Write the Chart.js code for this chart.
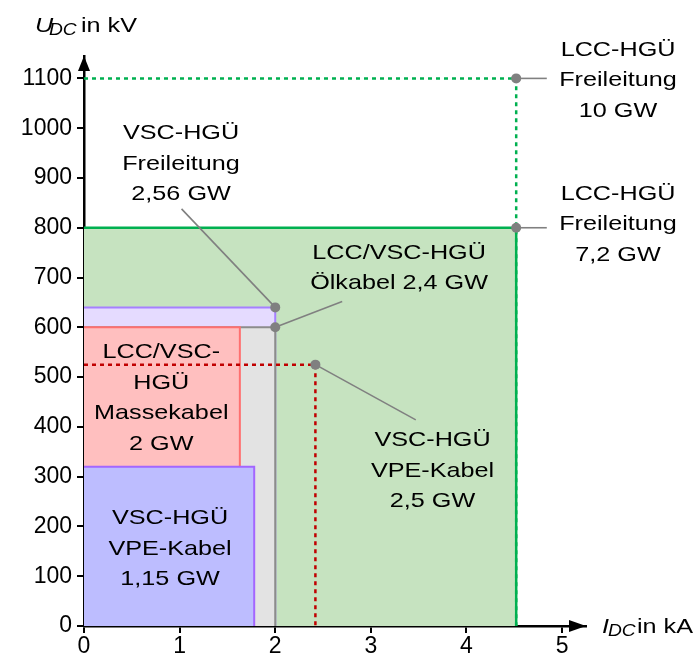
<!DOCTYPE html>
<html>
<head>
<meta charset="utf-8">
<script src="https://cdn.jsdelivr.net/npm/chart.js@4.4.1/dist/chart.umd.min.js"></script>
<style>
  html, body { margin: 0; padding: 0; background: #fff; }
  #wrap { width: 697px; height: 662px; }
</style>
</head>
<body>
<div id="wrap"><canvas id="c" width="697" height="662"></canvas></div>
<script>
// tick values
const xTicks = [0, 1, 2, 3, 4, 5];
const yTicks = [0, 100, 200, 300, 400, 500, 600, 700, 800, 900, 1000, 1100];

// operating areas (I in kA, U in kV), back to front
const areaCurrent = [4.52, 2.0, 2.0, 1.63, 1.78];
const areaVoltage = [800, 640, 600, 600, 320];

// dotted limits: LCC overhead line 10 GW, VSC XLPE 2.5 GW
const dottedCurrent = [4.52, 2.42];
const dottedVoltage = [1100, 525];

// leader lines: start point on the curve, end point near the label
const leaderStartI = [4.52, 4.52, 2.0, 2.0, 2.42];
const leaderStartU = [1100, 800, 640, 600, 525];
const leaderEndI = [4.84, 4.84, 1.02, 2.70, 3.47];
const leaderEndU = [1100, 800, 838, 652, 414];

// labels: text lines and anchor in data units
const labelLines = [
    ['LCC-HGÜ', 'Freileitung', '10 GW'],
    ['LCC-HGÜ', 'Freileitung', '7,2 GW'],
    ['VSC-HGÜ', 'Freileitung', '2,56 GW'],
    ['LCC/VSC-HGÜ', 'Ölkabel 2,4 GW'],
    ['LCC/VSC-', 'HGÜ', 'Massekabel', '2 GW'],
    ['VSC-HGÜ', 'VPE-Kabel', '1,15 GW'],
    ['VSC-HGÜ', 'VPE-Kabel', '2,5 GW'],
];
const labelI = [5.585, 5.585, 1.015, 3.295, 0.808, 0.90, 3.645];
const labelU = [1099, 810, 932, 722, 461, 158, 315];

const areaFill = ['#c6e3c0', '#e5dbff', '#e3e3e3', '#ffbfbf', '#bdbdff'];
const areaBorder = ['#00b050', '#a680ff', '#8c8c8c', '#ff7070', '#a366ff'];
const dottedColor = ['#00b050', '#c00000'];

const FONT = '"Liberation Sans", Arial, sans-serif';
const STRETCH = 1.2;

function wideText(ctx, txt, x, y, size, align, italic) {
    ctx.save();
    ctx.font = (italic ? 'italic ' : '') + size + 'px ' + FONT;
    ctx.textBaseline = 'alphabetic';
    ctx.textAlign = 'left';
    const w = ctx.measureText(txt).width * STRETCH;
    let x0 = x;
    if (align === 'center') x0 = x - w / 2;
    ctx.translate(x0, y);
    ctx.scale(STRETCH, 1);
    ctx.fillText(txt, 0, 0);
    ctx.restore();
    return w;
}

const datasets = [];

areaCurrent.forEach((I, i) => {
    datasets.push({
        data: [{x: 0, y: areaVoltage[i]}, {x: I, y: areaVoltage[i]}, {x: I, y: 0}],
        borderColor: areaBorder[i],
        backgroundColor: areaFill[i],
        borderWidth: i === 0 ? 2.5 : 2,
        fill: 'origin',
        pointRadius: 0,
        tension: 0,
        order: 20 - i,
    });
});

dottedCurrent.forEach((I, i) => {
    datasets.push({
        data: [{x: 0, y: dottedVoltage[i]}, {x: I, y: dottedVoltage[i]}, {x: I, y: 0}],
        borderColor: dottedColor[i],
        borderWidth: 2.5,
        borderDash: [4, 4],
        fill: false,
        pointRadius: 0,
        order: 5,
    });
});

leaderStartI.forEach((I, i) => {
    datasets.push({
        data: [{x: I, y: leaderStartU[i]}, {x: leaderEndI[i], y: leaderEndU[i]}],
        borderColor: '#808080',
        borderWidth: 1.6,
        pointRadius: [5, 0],
        pointBackgroundColor: '#808080',
        pointBorderWidth: 0,
        fill: false,
        order: 1,
    });
});

const decor = {
    id: 'decor',
    afterDraw(chart) {
        const ctx = chart.ctx;
        const xs = chart.scales.x, ys = chart.scales.y;
        const a = chart.chartArea;

        // arrow heads
        ctx.save();
        ctx.fillStyle = '#000';
        ctx.beginPath();
        ctx.moveTo(a.right, a.bottom);
        ctx.lineTo(a.right - 17, a.bottom - 6);
        ctx.lineTo(a.right - 17, a.bottom + 6);
        ctx.closePath();
        ctx.fill();
        ctx.beginPath();
        ctx.moveTo(a.left, a.top);
        ctx.lineTo(a.left - 6, a.top + 15);
        ctx.lineTo(a.left + 6, a.top + 15);
        ctx.closePath();
        ctx.fill();
        ctx.restore();

        ctx.save();
        ctx.fillStyle = '#000';
        labelLines.forEach((lines, i) => {
            const cx = xs.getPixelForValue(labelI[i]);
            const cy = ys.getPixelForValue(labelU[i]);
            const lh = 30.5;
            const y0 = cy - (lines.length - 1) * lh / 2;
            lines.forEach((t, k) => {
                wideText(ctx, t, cx, y0 + k * lh + 7.5, 21, 'center', false);
            });
        });

        // axis titles
        wideText(ctx, 'U', 35, 32, 21, 'left', true);
        wideText(ctx, 'DC', 49, 35, 16, 'left', true);
        wideText(ctx, 'in kV', 81, 32, 21, 'left', false);

        wideText(ctx, 'I', 602, 633, 21, 'left', true);
        wideText(ctx, 'DC', 608, 636, 16, 'left', true);
        wideText(ctx, 'in kA', 637, 633, 21, 'left', false);
        ctx.restore();
    }
};

new Chart(document.getElementById('c'), {
    type: 'line',
    data: { datasets: datasets },
    options: {
        responsive: false,
        animation: false,
        events: [],
        layout: { padding: { top: 56, right: 111, left: 0, bottom: 0 } },
        plugins: {
            legend: { display: false },
            tooltip: { enabled: false },
        },
        scales: {
            x: {
                type: 'linear',
                min: 0,
                max: 5.25,
                afterBuildTicks: (s) => { s.ticks = xTicks.map(v => ({value: v})); },
                afterFit: (s) => { s.height = 36; },
                grid: { drawOnChartArea: false, color: '#000', lineWidth: 2, tickLength: 7 },
                border: { color: '#000', width: 2.5 },
                ticks: { color: '#000', font: { family: FONT, size: 23 }, padding: 0, maxRotation: 0,
                         callback: (v) => String(v) },
            },
            y: {
                type: 'linear',
                min: 0,
                max: 1145,
                afterBuildTicks: (s) => { s.ticks = yTicks.map(v => ({value: v})); },
                afterFit: (s) => { s.width = 84; },
                grid: { drawOnChartArea: false, color: '#000', lineWidth: 2, tickLength: 7 },
                border: { color: '#000', width: 2.5 },
                ticks: { color: '#000', font: { family: FONT, size: 23 }, padding: 5,
                         callback: (v) => String(v) },
            },
        },
    },
    plugins: [decor],
});
</script>
</body>
</html>
